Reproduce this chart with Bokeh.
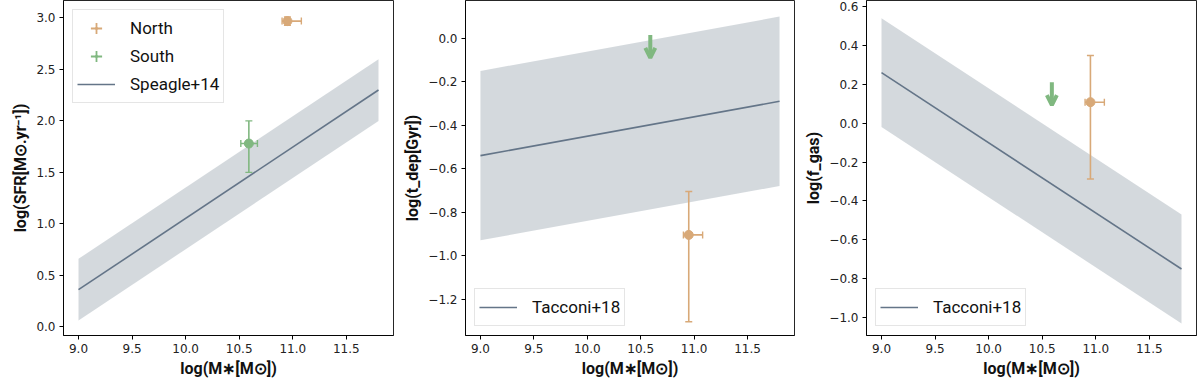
import numpy as np
from bokeh.plotting import figure
from bokeh.layouts import row
from bokeh.models import Range1d, Legend, LegendItem, Arrow, OpenHead
from bokeh.embed import file_html
from bokeh.resources import INLINE

# ---------------- data ----------------
mass_grid = [9.0, 11.8]
# Speagle+14 main sequence
speagle_sfr = [0.36, 2.30]
speagle_scatter = 0.30
# Tacconi+18 depletion time
tacconi_tdep = [-0.54, -0.29]
tdep_scatter = 0.39
# Tacconi+18 gas fraction
tacconi_fgas = [0.26, -0.75]
fgas_scatter = 0.28

# North
north_mass = 10.95
north_mass_err_lo = 0.05
north_mass_err_hi = 0.13
north_sfr = 2.97
north_sfr_err = [0.04, 0.04]
north_tdep = -0.905
north_tdep_err = [0.40, 0.20]
north_fgas = 0.108
north_fgas_err = [0.395, 0.24]

# South
south_mass = 10.59
south_mass_err = [0.075, 0.08]
south_sfr = 1.78
south_sfr_err = [0.28, 0.22]
south_tdep_ul = 0.015
south_fgas_ul = 0.21

x_ticks = [9.0, 9.5, 10.0, 10.5, 11.0, 11.5]
y_ticks1 = [0.0, 0.5, 1.0, 1.5, 2.0, 2.5, 3.0]
y_ticks2 = [-1.2, -1.0, -0.8, -0.6, -0.4, -0.2, 0.0]
y_ticks3 = [-1.0, -0.8, -0.6, -0.4, -0.2, 0.0, 0.2, 0.4, 0.6]

x_range = (8.86, 11.94)
yr1 = (-0.085, 3.17)
yr2 = (-1.368, 0.174)
yr3 = (-1.092, 0.631)

NORTH_C = "#d8a978"
SOUTH_C = "#80b880"
LINE_C = "#647588"
BAND_C = "slategray"

TICK_FONT = "DejaVu Sans"
LABEL_FONT = "Roboto"


def fmt(ticks):
    return {v: f"{v:.1f}".replace("-", "\u2212") for v in ticks}


def make_fig(width, left, right, yr, ylabel, yticks):
    p = figure(width=width, height=380, output_backend="svg", toolbar_location=None,
               x_range=Range1d(*x_range), y_range=Range1d(*yr),
               min_border_left=left, min_border_right=right, min_border_top=0,
               min_border_bottom=44)
    p.grid.visible = False
    p.outline_line_color = "black"
    p.outline_line_width = 1
    p.outline_line_alpha = 0.85
    for ax in (p.xaxis[0], p.yaxis[0]):
        ax.major_label_text_font = TICK_FONT
        ax.major_label_text_font_size = "12px"
        ax.major_label_text_color = "#222222"
        ax.minor_tick_line_color = None
        ax.major_tick_in = 0
        ax.major_tick_out = 4
        ax.major_label_standoff = 4
        ax.axis_label_text_font = LABEL_FONT
        ax.axis_label_text_font_size = "16px"
        ax.axis_label_text_font_style = "bold"
        ax.axis_label_text_color = "#111111"
        ax.axis_label_standoff = 3
        ax.axis_line_alpha = 0.85
    p.xaxis.ticker = x_ticks
    p.xaxis.major_label_overrides = fmt(x_ticks)
    p.yaxis.ticker = yticks
    p.yaxis.major_label_overrides = fmt(yticks)
    p.xaxis.axis_label = "log(M∗[M⊙])"
    p.yaxis.axis_label = ylabel
    return p


def band(p, centre, half):
    lo = [c - half for c in centre]
    hi = [c + half for c in centre]
    p.varea(x=mass_grid, y1=lo, y2=hi, fill_color=BAND_C, fill_alpha=0.3)
    return p.line(x=mass_grid, y=centre, line_color=LINE_C, line_width=1.6)


def errpoint(p, x, xlo, xhi, y, ylo, yhi, color):
    p.segment(x0=[x], y0=[y - ylo], x1=[x], y1=[y + yhi], line_color=color, line_width=1.6)
    p.segment(x0=[x - xlo], y0=[y], x1=[x + xhi], y1=[y], line_color=color, line_width=1.6)
    p.scatter(x=[x, x], y=[y - ylo, y + yhi], marker="dash", size=7, line_color=color, line_width=1.4)
    p.scatter(x=[x - xlo, x + xhi], y=[y, y], marker="dash", angle=np.pi / 2, size=7,
              line_color=color, line_width=1.4)
    p.scatter(x=[x], y=[y], marker="circle", size=9, fill_color=color, line_color=color)
    # legend-only glyphs, placed far outside the visible range
    cross = p.scatter(x=[-100.0], y=[-100.0], marker="cross", size=20, line_color=color,
                      line_width=1.8)
    dot = p.scatter(x=[-100.0], y=[-100.0], marker="dot", size=20, line_color=color,
                    fill_color=color, line_width=6)
    return [cross, dot]


def uplim(p, x, y, yr, color):
    length = 0.068 * (yr[1] - yr[0])
    p.add_layout(Arrow(end=OpenHead(line_color=color, line_width=4, size=10),
                       x_start=x, y_start=y, x_end=x, y_end=y - length,
                       line_color=color, line_width=4))


# ---------- panel 1 ----------
p1 = make_fig(400, 63, 7, yr1, "log(SFR[M⊙.yr⁻¹])", y_ticks1)
l1 = band(p1, speagle_sfr, speagle_scatter)
n_leg = errpoint(p1, north_mass, north_mass_err_lo, north_mass_err_hi,
                 north_sfr, north_sfr_err[0], north_sfr_err[1], NORTH_C)
s_leg = errpoint(p1, south_mass, south_mass_err[0], south_mass_err[1],
                 south_sfr, south_sfr_err[0], south_sfr_err[1], SOUTH_C)
leg1 = Legend(items=[LegendItem(label="North", renderers=n_leg),
                     LegendItem(label="South", renderers=s_leg),
                     LegendItem(label="Speagle+14", renderers=[l1])],
              location="top_left")

# ---------- panel 2 ----------
p2 = make_fig(401, 64, 7, yr2, "log(t_dep[Gyr])", y_ticks2)
l2 = band(p2, tacconi_tdep, tdep_scatter)
errpoint(p2, north_mass, north_mass_err_lo, north_mass_err_hi,
         north_tdep, north_tdep_err[0], north_tdep_err[1], NORTH_C)
uplim(p2, south_mass, south_tdep_ul, yr2, SOUTH_C)
leg2 = Legend(items=[LegendItem(label="Tacconi+18", renderers=[l2])], location="bottom_left")

# ---------- panel 3 ----------
p3 = make_fig(398, 65, 3, yr3, "log(f_gas)", y_ticks3)
l3 = band(p3, tacconi_fgas, fgas_scatter)
errpoint(p3, north_mass, north_mass_err_lo, north_mass_err_hi,
         north_fgas, north_fgas_err[0], north_fgas_err[1], NORTH_C)
uplim(p3, south_mass, south_fgas_ul, yr3, SOUTH_C)
leg3 = Legend(items=[LegendItem(label="Tacconi+18", renderers=[l3])], location="bottom_left")

for p, leg in ((p1, leg1), (p2, leg2), (p3, leg3)):
    leg.label_text_font = LABEL_FONT
    leg.label_text_font_size = "17px"
    leg.label_text_color = "#111111"
    leg.glyph_width = 38
    leg.glyph_height = 28
    leg.label_standoff = 15
    leg.spacing = 0
    leg.padding = 4
    leg.margin = 9
    leg.border_line_color = "#cccccc"
    leg.border_line_width = 1
    leg.background_fill_alpha = 0.8
    p.add_layout(leg)

layout = row(p1, p2, p3)
open("out.html", "w").write(file_html(layout, INLINE))
